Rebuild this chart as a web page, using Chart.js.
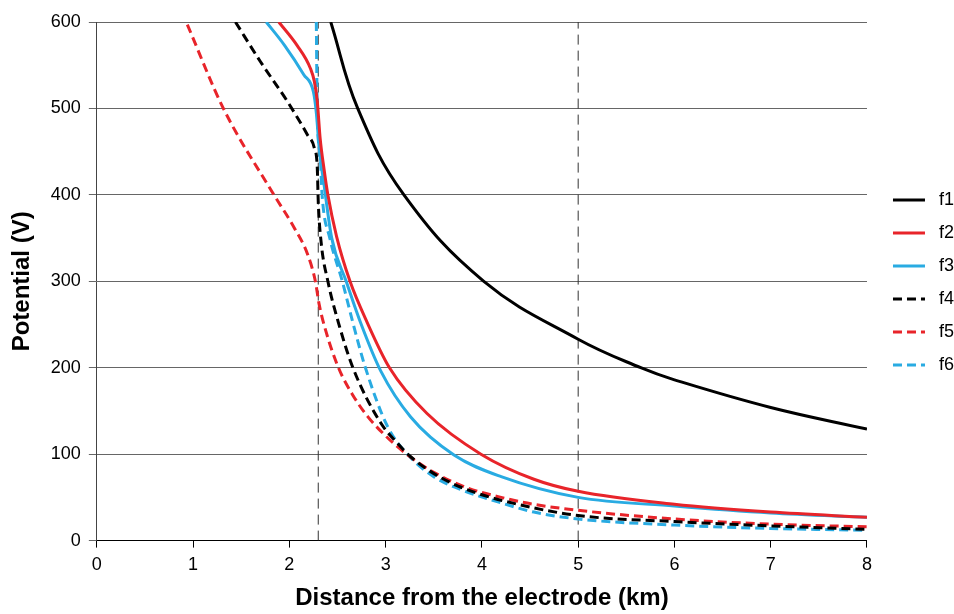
<!DOCTYPE html>
<html>
<head>
<meta charset="utf-8">
<script src="https://cdn.jsdelivr.net/npm/chart.js@4.4.1/dist/chart.umd.min.js"></script>
<style>
  body { margin: 0; background: #fff; }
  #wrap { width: 954px; height: 614px; }
</style>
</head>
<body>
<div id="wrap"><canvas id="chart" width="954" height="614"></canvas></div>
<script>
// Data ==========================
const f1X = [2.43, 2.71, 3.19, 4.02, 5, 5.65, 6, 7, 8];
const f1Y = [600, 500, 400, 300, 233, 200, 186, 154, 129];

const f2X = [1.89, 2.08, 2.22, 2.26, 2.29, 2.32, 2.36, 2.40, 2.49, 2.63, 2.81, 3.04, 3.43, 3.99, 4.54, 5, 6, 7, 8];
const f2Y = [600, 573, 546, 531, 508, 465, 430, 400, 352, 300, 252, 200, 147, 100, 71, 57, 42, 33, 27];

const f3X = [1.76, 1.95, 2.15, 2.25, 2.28, 2.31, 2.36, 2.44, 2.59, 2.74, 2.95, 3.26, 3.71, 4.2, 5, 6, 7, 8];
const f3Y = [600, 573, 539, 519, 495, 454, 412, 350, 300, 252, 196, 143, 99, 74, 50, 40, 32, 27];

const f4X = [1.44, 1.70, 1.98, 2.19, 2.26, 2.29, 2.30, 2.33, 2.40, 2.51, 2.66, 2.95, 3.12, 3.26, 3.57, 3.92, 4.37, 5, 6, 7, 8];
const f4Y = [600, 554, 508, 469, 454, 431, 392, 345, 300, 252, 200, 136, 113, 97, 73, 56, 42, 29, 22, 17, 13];

const f5X = [0.94, 1.31, 1.84, 2.05, 2.19, 2.27, 2.31, 2.38, 2.51, 2.65, 2.81, 3.02, 3.23, 3.5, 3.85, 4.2, 4.54, 5, 6, 7, 8];
const f5Y = [597, 501, 400, 362, 331, 300, 273, 242, 200, 170, 144, 119, 99, 79, 61, 50, 42, 35, 25, 19, 16];

const f6X = [2.28, 2.285, 2.29, 2.32, 2.34, 2.42, 2.55, 2.66, 2.79, 3.02, 3.26, 3.5, 3.78, 4.13, 4.54, 5, 6, 7, 8];
const f6Y = [600, 540, 492, 446, 400, 350, 300, 252, 200, 132, 96, 74, 59, 46, 33, 25, 18, 14, 12];

// vertical reference lines (km)
const refX = [2.3, 5];

const yMin = 0, yMax = 600;

// Helpers ==========================
const FONT = "'Liberation Sans', Arial, sans-serif";
const RED = "#e8242a";
const BLUE = "#29abe2";
const BLACK = "#000000";

function pts(xs, ys) {
    return xs.map((x, i) => ({ x: x, y: ys[i] }));
}

function curve(label, xs, ys, color, dashed, smooth) {
    return {
        label: label,
        data: pts(xs, ys),
        showLine: true,
        borderColor: color,
        backgroundColor: color,
        borderWidth: 3,
        borderDash: dashed ? [9, 5] : [],
        pointRadius: 0,
        // f1 has no near-vertical part, so a plain spline is smoother there
        cubicInterpolationMode: smooth ? "default" : "monotone",
        tension: 0.4,
        order: 1
    };
}

const refSets = refX.map(x => ({
    label: "ref",
    data: [{ x: x, y: yMin }, { x: x, y: yMax }],
    showLine: true,
    borderColor: "#333",
    borderWidth: 1,
    borderDash: [10, 6],
    pointRadius: 0,
    order: 10
}));

// nudge the legend box next to the plot, like the original
const legendNudge = {
    id: "legendNudge",
    afterLayout(chart) {
        const lg = chart.legend;
        lg.left += 11; lg.right += 11;
        lg.top -= 35; lg.bottom -= 35;
    }
};

// Chart ==========================
const ctx = document.getElementById("chart").getContext("2d");

new Chart(ctx, {
    type: "scatter",
    data: {
        datasets: [
            curve("f1", f1X, f1Y, BLACK, false, true),
            curve("f2", f2X, f2Y, RED, false),
            curve("f3", f3X, f3Y, BLUE, false),
            curve("f4", f4X, f4Y, BLACK, true),
            curve("f5", f5X, f5Y, RED, true),
            curve("f6", f6X, f6Y, BLUE, true),
            ...refSets
        ]
    },
    plugins: [legendNudge],
    options: {
        responsive: false,
        animation: false,
        layout: { padding: { top: 22, left: 4, right: 1, bottom: 1 } },
        plugins: {
            tooltip: { enabled: false },
            legend: {
                position: "right",
                labels: {
                    usePointStyle: true,
                    pointStyle: "line",
                    pointStyleWidth: 32,
                    padding: 15,
                    color: "#000",
                    font: { family: FONT, size: 18 },
                    generateLabels: chart => {
                        const items = Chart.defaults.plugins.legend.labels.generateLabels(chart);
                        return items.filter(it => it.text !== "ref").map(it => {
                            const ds = chart.data.datasets[it.datasetIndex];
                            it.text = " " + it.text;
                            it.lineDash = ds.borderDash;
                            it.lineWidth = 3;
                            it.strokeStyle = ds.borderColor;
                            return it;
                        });
                    }
                }
            }
        },
        scales: {
            x: {
                type: "linear",
                min: 0,
                max: 8,
                ticks: { stepSize: 1, color: "#000", font: { family: FONT, size: 18 }, padding: 7 },
                grid: { drawOnChartArea: false, drawTicks: true, tickLength: 7, color: "#000" },
                border: { color: "#000", width: 1 },
                title: {
                    display: true,
                    text: "Distance from the electrode (km)",
                    color: "#000",
                    font: { family: FONT, size: 24, weight: "bold" },
                    padding: { top: 1, bottom: 0 }
                }
            },
            y: {
                min: yMin,
                max: yMax,
                ticks: { stepSize: 100, color: "#000", font: { family: FONT, size: 18 }, padding: 8 },
                grid: { color: "#666", tickLength: 8, lineWidth: 1 },
                border: { color: "#444", width: 1 },
                title: {
                    display: true,
                    text: "Potential (V)",
                    color: "#000",
                    font: { family: FONT, size: 24, weight: "bold" },
                    padding: { bottom: 6 }
                }
            }
        }
    }
});
</script>
</body>
</html>
